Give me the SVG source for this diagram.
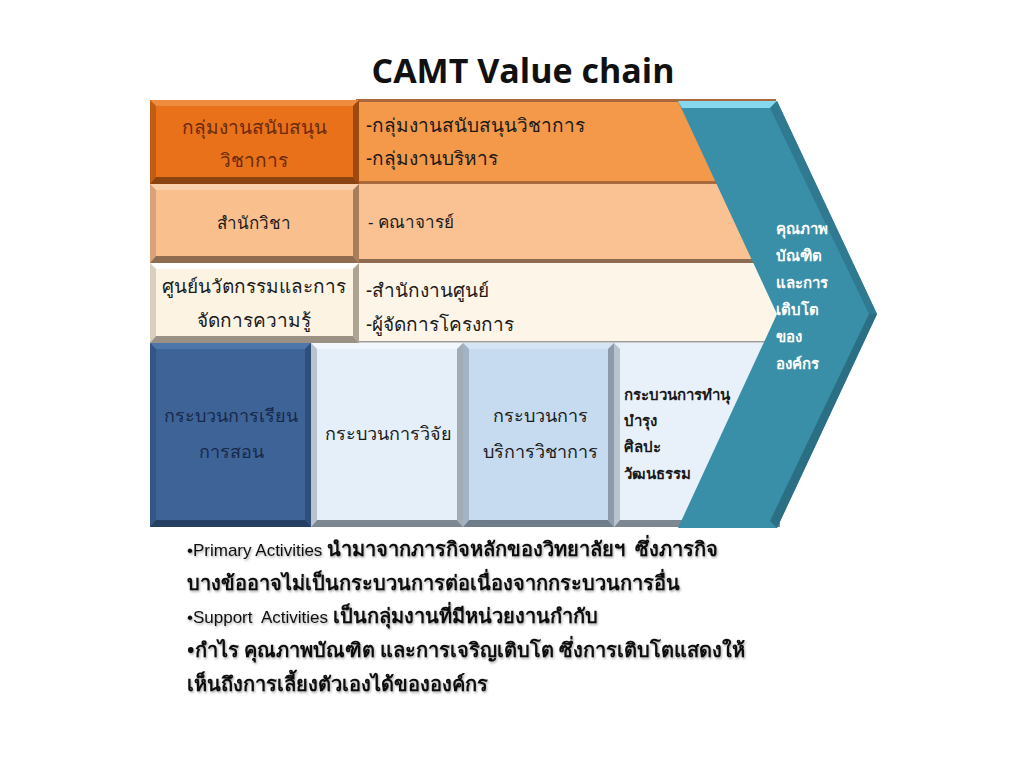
<svg xmlns="http://www.w3.org/2000/svg" width="1024" height="768" viewBox="0 0 1024 768">
<defs>
<style>
.t{font-family:"Noto Sans","DejaVu Sans",sans-serif;font-size:19px;fill:#1a1a1a}
.c{text-anchor:middle}
.s{font-size:17px}
.p{font-size:18px}
.b{font-weight:bold}
.w{fill:#ffffff;font-size:15px;font-weight:bold}
.n{font-family:"Noto Sans","DejaVu Sans",sans-serif;font-size:20px;font-weight:bold;fill:#111;white-space:pre}
.en{font-family:"Liberation Sans",Arial,sans-serif;font-weight:normal;font-size:17px}
</style>
<filter id="sh" x="-5%" y="-20%" width="110%" height="140%">
<feDropShadow dx="1" dy="1.5" stdDeviation="0.8" flood-color="#000" flood-opacity="0.35"/>
</filter>
</defs>
<rect width="1024" height="768" fill="#ffffff"/>
<text x="523" y="83" text-anchor="middle" font-family="'Open Sans','Liberation Sans',sans-serif" font-weight="bold" font-size="34" fill="#111">CAMT Value chain</text>

<!-- bands -->
<g id="band1">
<rect x="356" y="99" width="420" height="3" fill="#a9693c"/>
<rect x="356" y="102" width="420" height="81" fill="#f4984a"/>
<rect x="356" y="181" width="420" height="3" fill="#a9693c"/>
<text class="t" x="366" y="132">-กลุ่มงานสนับสนุนวิชาการ</text>
<text class="t" x="366" y="165">-กลุ่มงานบริหาร</text>
</g>
<g id="band2">
<rect x="356" y="184" width="420" height="77" fill="#fac192"/>
<rect x="356" y="259" width="420" height="4" fill="#8e6a50"/>
<text class="t s" x="368" y="228">- คณาจารย์</text>
</g>
<g id="band3">
<rect x="356" y="263" width="424" height="79" fill="#fdf6e8"/>
<rect x="356" y="341" width="424" height="1.5" fill="#9a9a9a"/>
<text class="t" x="366" y="297">-สำนักงานศูนย์</text>
<text class="t" x="366" y="331">-ผู้จัดการโครงการ</text>
</g>

<!-- left support boxes -->
<g id="box-support1">
<rect x="150" y="100" width="209" height="84" fill="#e8711a"/>
<polygon points="150,100 359,100 353,106 156,106" fill="#f08c3d"/>
<polygon points="150,100 156,106 156,177 150,184" fill="#c25c12"/>
<polygon points="359,100 359,184 353,177 353,106" fill="#9c4a10"/>
<polygon points="150,184 359,184 353,177 156,177" fill="#8a4410"/>
<text class="t c" x="254" y="134" style="fill:#6b2a0c">กลุ่มงานสนับสนุน</text>
<text class="t c" x="254" y="167" style="fill:#6b2a0c">วิชาการ</text>
</g>
<g id="box-support2">
<rect x="150" y="184" width="209" height="79" fill="#f9c08e"/>
<polygon points="150,184 359,184 353,190 156,190" fill="#fbd1ab"/>
<polygon points="150,184 156,190 156,256 150,263" fill="#d9a27a"/>
<polygon points="359,184 359,263 353,256 353,190" fill="#a77d5b"/>
<polygon points="150,263 359,263 353,256 156,256" fill="#8f6b50"/>
<text class="t c s" x="254" y="229">สำนักวิชา</text>
</g>
<g id="box-support3">
<rect x="150" y="263" width="209" height="80" fill="#fcf3e3"/>
<polygon points="150,263 359,263 353,269 156,269" fill="#ffffff"/>
<polygon points="150,263 156,269 156,336 150,343" fill="#d8cfc1"/>
<polygon points="359,263 359,343 353,336 353,269" fill="#aea493"/>
<polygon points="150,343 359,343 353,336 156,336" fill="#9a9084"/>
<text class="t c" x="254" y="293">ศูนย์นวัตกรรมและการ</text>
<text class="t c" x="254" y="327">จัดการความรู้</text>
</g>

<!-- primary boxes -->
<g id="box-teach">
<rect x="150" y="343" width="161" height="184" fill="#3e6497"/>
<polygon points="150,343 311,343 305,349 156,349" fill="#4e76ab"/>
<polygon points="150,343 156,349 156,520 150,527" fill="#345684"/>
<polygon points="311,343 311,527 305,520 305,349" fill="#2f4f7a"/>
<polygon points="150,527 311,527 305,520 156,520" fill="#253f63"/>
<text class="t c p" x="231" y="422" style="fill:#17284a">กระบวนการเรียน</text>
<text class="t c p" x="231" y="458" style="fill:#17284a">การสอน</text>
</g>
<g id="box-research">
<rect x="311" y="343" width="152" height="184" fill="#e5eff9"/>
<polygon points="311,343 463,343 457,349 317,349" fill="#f1f7fd"/>
<polygon points="311,343 317,349 317,520 311,527" fill="#b9c3ce"/>
<polygon points="463,343 463,527 457,520 457,349" fill="#a2acb7"/>
<polygon points="311,527 463,527 457,520 317,520" fill="#7d8792"/>
<text class="t c p" x="388" y="440">กระบวนการวิจัย</text>
</g>
<g id="box-service">
<rect x="463" y="343" width="151" height="184" fill="#c6daf0"/>
<polygon points="463,343 614,343 608,349 469,349" fill="#d6e5f5"/>
<polygon points="463,343 469,349 469,520 463,527" fill="#a3b3c5"/>
<polygon points="614,343 614,527 608,520 608,349" fill="#8c9aab"/>
<polygon points="463,527 614,527 608,520 469,520" fill="#6f7d8b"/>
<text class="t c p" x="540" y="422">กระบวนการ</text>
<text class="t c p" x="540" y="458">บริการวิชาการ</text>
</g>
<g id="box-culture">
<rect x="614" y="343" width="166" height="184" fill="#e8f1fa"/>
<polygon points="614,343 620,349 620,520 614,527" fill="#b9c3ce"/>
<polygon points="614,527 780,527 780,520 620,520" fill="#7d8792"/>
<text class="t b" x="624" y="400" style="font-size:15px">กระบวนการทำนุ</text>
<text class="t b" x="624" y="426" style="font-size:15px">บำรุง</text>
<text class="t b" x="624" y="452" style="font-size:15px">ศิลปะ</text>
<text class="t b" x="624" y="479" style="font-size:15px">วัฒนธรรม</text>
</g>

<!-- chevron -->
<g id="chevron">
<polygon points="678,101 777,101 877,314 777,528 678,528 777,314" fill="#3a8fa8"/>
<polygon points="678,101 777,101 770,108 682,108" fill="#86d8ec"/>
<polygon points="777,101 877,314 869,314 770,108" fill="#2f7a90"/>
<polygon points="877,314 777,528 770,521 869,314" fill="#2a6f84"/>
<text class="t w" x="776" y="234">คุณภาพ</text>
<text class="t w" x="776" y="261">บัณฑิต</text>
<text class="t w" x="776" y="288">และการ</text>
<text class="t w" x="776" y="315">เติบโต</text>
<text class="t w" x="776" y="342">ของ</text>
<text class="t w" x="776" y="369">องค์กร</text>
</g>

<!-- notes -->
<g id="notes" filter="url(#sh)">
<text class="n" x="187" y="556"><tspan class="en">•Primary Activities </tspan>นำมาจากภารกิจหลักของวิทยาลัยฯ  ซึ่งภารกิจ</text>
<text class="n" x="187" y="590">บางข้ออาจไม่เป็นกระบวนการต่อเนื่องจากกระบวนการอื่น</text>
<text class="n" x="187" y="623"><tspan class="en">•Support  Activities </tspan>เป็นกลุ่มงานที่มีหน่วยงานกำกับ</text>
<text class="n" x="187" y="657">•กำไร คุณภาพบัณฑิต และการเจริญเติบโต ซึ่งการเติบโตแสดงให้</text>
<text class="n" x="187" y="691">เห็นถึงการเลี้ยงตัวเองได้ขององค์กร</text>
</g>
</svg>
